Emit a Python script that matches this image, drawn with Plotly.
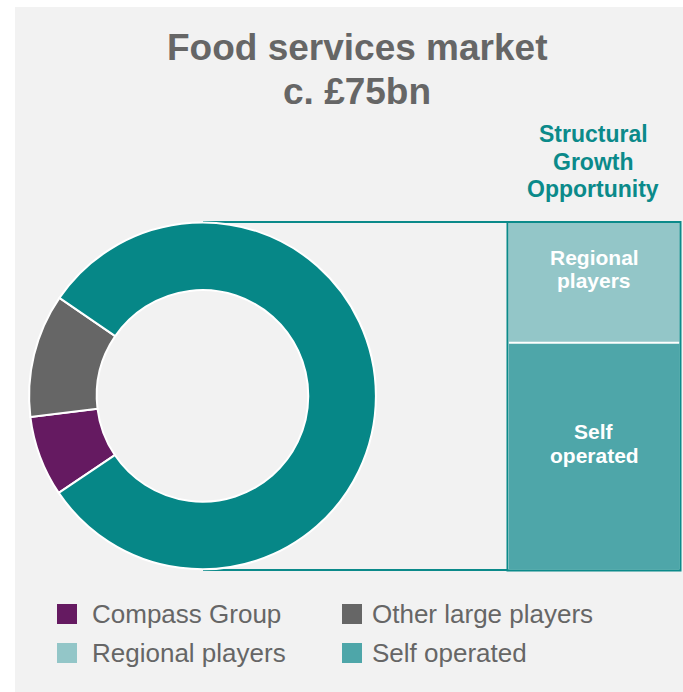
import plotly.graph_objects as go

# Market segments (share of the c. £75bn UK food services market, %)
segments = ["Compass Group", "Other large players", "Regional players", "Self operated"]
shares = [7.5, 11.5, 28, 53]
seg_colors = ["#651a61", "#666666", "#93c6c8", "#4ea6a9"]

# Donut view: the two growth segments are shown as one combined slice
growth_label = "Structural Growth Opportunity"
growth_color = "#068787"
donut_labels = segments[:2] + [growth_label]
donut_values = shares[:2] + [shares[2] + shares[3]]
donut_colors = seg_colors[:2] + [growth_color]

title_lines = ["Food services market", "c. £75bn"]
growth_lines = ["Structural", "Growth", "Opportunity"]
bar_text = {"Regional players": ["Regional", "players"], "Self operated": ["Self", "operated"]}

W, H = 683, 692
TEAL = "#0b8a8a"
GREY_TXT = "#666666"
FONT = "Liberation Sans, Arial, sans-serif"


def py(v):
    """Pixel row -> paper fraction."""
    return (H - v) / H


fig = go.Figure()

# Donut
fig.add_trace(go.Pie(
    labels=donut_labels, values=donut_values, hole=0.61, sort=False,
    direction="clockwise", rotation=236,
    marker=dict(colors=donut_colors, line=dict(color="white", width=2)),
    textinfo="none", hoverinfo="label+percent", showlegend=False,
    domain=dict(x=[29 / W, 376 / W], y=[py(569.3), py(222.5)]),
))

# Stacked breakdown of the growth slice
for name in ["Self operated", "Regional players"]:
    i = segments.index(name)
    fig.add_trace(go.Bar(
        x=[0], y=[shares[i]], name=name, width=1,
        marker=dict(color=seg_colors[i], line=dict(width=0)),
        xaxis="x2", yaxis="y2", showlegend=False, hoverinfo="name+y",
    ))

shapes = [
    # grey panel
    dict(type="rect", xref="x", yref="y", x0=15, x1=W, y0=7, y1=H,
         fillcolor="#f2f2f2", line=dict(width=0), layer="below"),
    # connector lines from the donut to the breakdown box
    dict(type="line", xref="x", yref="y", x0=203, x1=508, y0=222, y1=222,
         line=dict(color=TEAL, width=2), layer="below"),
    dict(type="line", xref="x", yref="y", x0=203, x1=508, y0=570, y1=570,
         line=dict(color=TEAL, width=2), layer="below"),
    # separator between the two stacked segments
    dict(type="line", xref="x2 domain", yref="y2", x0=0, x1=1,
         y0=shares[3], y1=shares[3], line=dict(color="white", width=2), layer="above"),
    # box outline
    dict(type="rect", xref="x", yref="y", x0=507.5, x1=680.5, y0=222, y1=570.5,
         line=dict(color=TEAL, width=2), layer="above"),
]

annotations = []


def text(x, y, s, size, color, bold=False, anchor="center"):
    annotations.append(dict(
        xref="x", yref="y", x=x, y=y, text=f"<b>{s}</b>" if bold else s,
        showarrow=False, xanchor=anchor, yanchor="middle",
        font=dict(family=FONT, size=size, color=color),
    ))


# Title
text(357, 47, title_lines[0], 37, GREY_TXT, bold=True)
text(357, 91, title_lines[1], 37, GREY_TXT, bold=True)

# Growth heading
for s, y in zip(growth_lines, [133.5, 161.5, 189]):
    text(593, y, s, 23, TEAL, bold=True)

# Labels inside the box
for s, y in zip(bar_text["Regional players"], [257.5, 280.5]):
    text(594, y, s, 21, "white", bold=True)
for s, y in zip(bar_text["Self operated"], [431.5, 455.5]):
    text(594, y, s, 21, "white", bold=True)

# Legend (2 x 2 grid): swatch x, text x, row y
legend_pos = [(57, 90, 614), (342, 370, 614), (57, 90, 653), (342, 370, 653)]
for name, col, (sx, tx, ly) in zip(segments, seg_colors, legend_pos):
    shapes.append(dict(type="rect", xref="x", yref="y", x0=sx, x1=sx + 20,
                       y0=ly - 10, y1=ly + 10, fillcolor=col, line=dict(width=0),
                       layer="below"))
    text(tx, ly, name, 26, GREY_TXT, anchor="left")

fig.update_layout(
    width=W, height=H, margin=dict(l=0, r=0, t=0, b=0),
    paper_bgcolor="white", plot_bgcolor="rgba(0,0,0,0)",
    barmode="stack", bargap=0,
    xaxis=dict(range=[0, W], visible=False, fixedrange=True, domain=[0, 1]),
    yaxis=dict(range=[H, 0], visible=False, fixedrange=True, domain=[0, 1]),
    xaxis2=dict(range=[-0.5, 0.5], visible=False, fixedrange=True,
                domain=[508.5 / W, 679.5 / W], anchor="y2"),
    yaxis2=dict(range=[0, shares[2] + shares[3]], visible=False, fixedrange=True,
                domain=[py(569.5), py(223)], anchor="x2"),
    shapes=shapes, annotations=annotations,
    font=dict(family=FONT),
    showlegend=False,
)

fig.write_html("out.html", config={"displayModeBar": False})
